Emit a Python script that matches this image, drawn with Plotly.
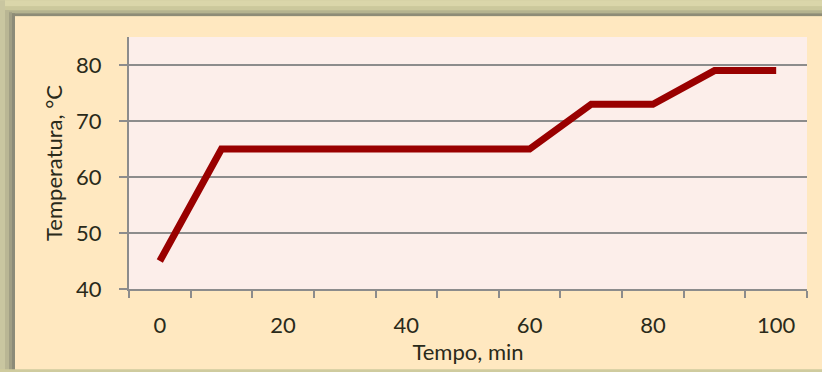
import plotly.graph_objects as go

# Temperature profile over time
tempo_min = [0, 10, 20, 30, 40, 50, 60, 70, 80, 90, 100]
temperatura_c = [45, 65, 65, 65, 65, 65, 65, 73, 73, 79, 79]
x_tick_vals = [0, 20, 40, 60, 80, 100]
y_tick_vals = [40, 50, 60, 70, 80]

W, H = 822, 372
L, R, T, B = 129, 15, 37, 81
PW, PH = W - L - R, H - T - B


def px_rect(x0, y0, x1, y1, color):
    """Rectangle given in page pixels, converted to paper coordinates."""
    return dict(
        type="rect", xref="paper", yref="paper", layer="below",
        x0=(x0 - L) / PW, x1=(x1 - L) / PW,
        y0=(H - B - y1) / PH, y1=(H - B - y0) / PH,
        fillcolor=color, line=dict(width=0),
    )


shapes = [
    # stone frame bands
    px_rect(0, 0, W, 6, "#DAD6AA"),
    px_rect(0, 6, W, 10, "#CBC89C"),
    px_rect(0, 10, W, 13, "#B5B38F"),
    px_rect(0, 0, 5, H, "#C9C6A0"),
    px_rect(5, 10, 9, H, "#B9B694"),
    px_rect(9, 12, 12, H, "#A09E84"),
    px_rect(12, 13, 15, H, "#8C8B78"),
    px_rect(12, 13, W, 16, "#8E8C77"),
    # panel
    px_rect(15, 16, W, H, "#FFE8C0"),
    # plotting area
    px_rect(L, T, W - R, H - B, "#FCEEEA"),
]

fig = go.Figure(
    go.Scatter(
        x=tempo_min, y=temperatura_c, mode="lines",
        line=dict(color="#990000", width=7),
        hoverinfo="skip",
    )
)

font_family = "Lato, 'Open Sans', sans-serif"
text_color = "#2A2A1A"
fs = 22

fig.update_layout(
    width=W, height=H,
    margin=dict(l=L, r=R, t=T, b=B, pad=0),
    paper_bgcolor="#CFCB9E",
    plot_bgcolor="#FCEEEA",
    showlegend=False,
    shapes=shapes,
    font=dict(family=font_family, size=fs, color=text_color),
)

fig.update_xaxes(
    range=[-5, 105],
    tickvals=x_tick_vals,
    ticks="",
    showgrid=False,
    zeroline=False,
    showline=True, linecolor="#8C8C8C", linewidth=2,
    minor=dict(tick0=-5, dtick=10, ticks="outside", ticklen=7,
               tickwidth=2, tickcolor="#8C8C8C", showgrid=False),
    ticklabelstandoff=16,
    title=dict(text="Tempo, min", standoff=6, font=dict(size=fs)),
)

fig.update_yaxes(
    range=[40, 85],
    tickvals=y_tick_vals,
    ticks="outside", ticklen=8, tickwidth=2, tickcolor="#8C8C8C",
    showgrid=True, gridcolor="#8C8C8C", gridwidth=1.5,
    zeroline=False,
    showline=True, linecolor="#8C8C8C", linewidth=2,
    ticklabelstandoff=13,
    title=dict(text="Temperatura, °C", standoff=7, font=dict(size=fs)),
)

fig.write_html("out.html")
